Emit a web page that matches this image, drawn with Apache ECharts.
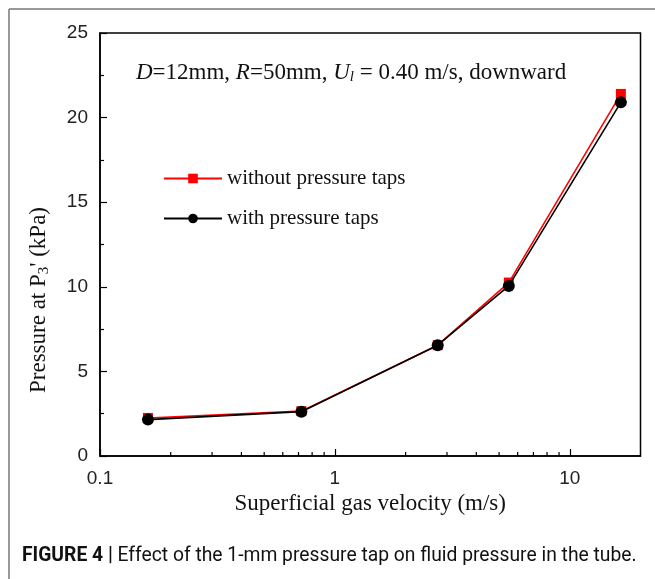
<!DOCTYPE html>
<html>
<head>
<meta charset="utf-8">
<script src="https://cdn.jsdelivr.net/npm/echarts@6/dist/echarts.min.js"></script>
<style>
  html, body { margin: 0; padding: 0; background: #fff; }
  #chart { width: 655px; height: 579px; }
</style>
</head>
<body>
<div id="chart"></div>
<script>
// gas velocity (m/s)
const velocity = [0.16, 0.72, 2.74, 5.5, 16.5];
// pressure at P3' (kPa)
const withoutTaps = [2.25, 2.65, 6.55, 10.25, 21.4];
const withTaps = [2.15, 2.62, 6.55, 10.05, 20.9];
// minor ticks on the log axis
const xMinorTicks = [0.2, 0.3, 0.4, 0.5, 0.6, 0.7, 0.8, 0.9, 2, 3, 4, 5, 6, 7, 8, 9];

const serif = '"Liberation Serif", "Times New Roman", serif';
const sans = '"Liberation Sans", Arial, sans-serif';
const condensed = 'Roboto, "Liberation Sans Narrow", sans-serif';

const chart = echarts.init(document.getElementById('chart'));

const option = {
  animation: false,
  backgroundColor: '#fff',
  grid: {
    left: 100, right: 14.5, top: 33, bottom: 123,
    show: true, borderColor: '#000', borderWidth: 1.5
  },
  xAxis: {
    type: 'log',
    logBase: 10,
    min: 0.1,
    max: 20,
    name: 'Superficial gas velocity (m/s)',
    nameLocation: 'middle',
    nameGap: 31,
    nameTextStyle: { fontFamily: serif, fontSize: 23, color: '#111', verticalAlign: 'top' },
    axisLine: { lineStyle: { color: '#000', width: 1.5 } },
    axisTick: { inside: true, length: 7, lineStyle: { color: '#000', width: 1.2 } },
    axisLabel: {
      fontFamily: sans, fontSize: 19, color: '#222', margin: 13,
      showMaxLabel: false,
      formatter: v => String(+Number(v).toPrecision(3))
    },
    splitLine: { show: false }
  },
  yAxis: {
    type: 'value',
    min: 0,
    max: 25,
    interval: 5,
    axisLine: { lineStyle: { color: '#000', width: 1.5 } },
    axisTick: { inside: true, length: 7, lineStyle: { color: '#000', width: 1.2 } },
    minorTick: { show: true, splitNumber: 2, length: 4, lineStyle: { color: '#000', width: 1.2 } },
    axisLabel: { fontFamily: sans, fontSize: 19, color: '#222', margin: 12 },
    splitLine: { show: false }
  },
  legend: {
    orient: 'vertical',
    left: 158,
    top: 163,
    itemGap: 19,
    itemWidth: 58,
    itemHeight: 12,
    textStyle: { fontFamily: serif, fontSize: 21, color: '#111' },
    data: ['without pressure taps', 'with pressure taps']
  },
  graphic: [
    { type: 'line', shape: { x1: 9, y1: 9, x2: 655, y2: 9 }, style: { stroke: '#777', lineWidth: 1.5 } },
    { type: 'line', shape: { x1: 9, y1: 9, x2: 9, y2: 579 }, style: { stroke: '#777', lineWidth: 1.5 } },
    {
      type: 'text', x: 39, y: 300, rotation: Math.PI / 2,
      style: {
        text: '{a|Pressure at P}{s|3}{a|\' (kPa)}',
        align: 'center', verticalAlign: 'middle',
        rich: {
          a: { fontFamily: serif, fontSize: 23, fill: '#111' },
          s: { fontFamily: serif, fontSize: 15, fill: '#111', padding: [10, 0, 0, 0] }
        }
      }
    },
    {
      type: 'text', left: 136, top: 61,
      style: {
        text: '{i|D}{n|=12mm, }{i|R}{n|=50mm, }{i|U}{s|l}{n| = 0.40 m/s, downward}',
        rich: {
          i: { fontFamily: serif, fontSize: 23, fontStyle: 'italic', fill: '#111' },
          n: { fontFamily: serif, fontSize: 23, fill: '#111' },
          s: { fontFamily: serif, fontSize: 15, fontStyle: 'italic', fill: '#111', padding: [10, 0, 0, 0] }
        }
      }
    },
    {
      type: 'text', left: 22, top: 547,
      style: {
        text: '{b|FIGURE 4 |}{n| Effect of the 1-mm pressure tap on fluid pressure in the tube.}',
        rich: {
          b: { fontFamily: condensed, fontSize: 19.3, fontWeight: 'bold', fill: '#111' },
          n: { fontFamily: condensed, fontSize: 19.3, fill: '#111' }
        }
      }
    }
  ],
  series: [
    {
      name: 'without pressure taps',
      type: 'line',
      data: velocity.map((v, i) => [v, withoutTaps[i]]),
      symbol: 'rect',
      symbolSize: 10,
      itemStyle: { color: '#ff0000' },
      lineStyle: { color: '#ff0000', width: 1.6 },
      z: 2
    },
    {
      name: 'with pressure taps',
      type: 'line',
      data: velocity.map((v, i) => [v, withTaps[i]]),
      symbol: 'circle',
      symbolSize: 12,
      itemStyle: { color: '#000' },
      lineStyle: { color: '#000', width: 1.6 },
      z: 3
    },
    {
      type: 'custom',
      silent: true,
      clip: false,
      data: xMinorTicks.map(v => [v, 0]),
      renderItem: (params, api) => {
        const p = api.coord([api.value(0), api.value(1)]);
        return {
          type: 'line',
          shape: { x1: p[0], y1: p[1], x2: p[0], y2: p[1] - 4 },
          style: { stroke: '#000', lineWidth: 1.2 }
        };
      },
      z: 5
    }
  ]
};

chart.setOption(option);
</script>
</body>
</html>
